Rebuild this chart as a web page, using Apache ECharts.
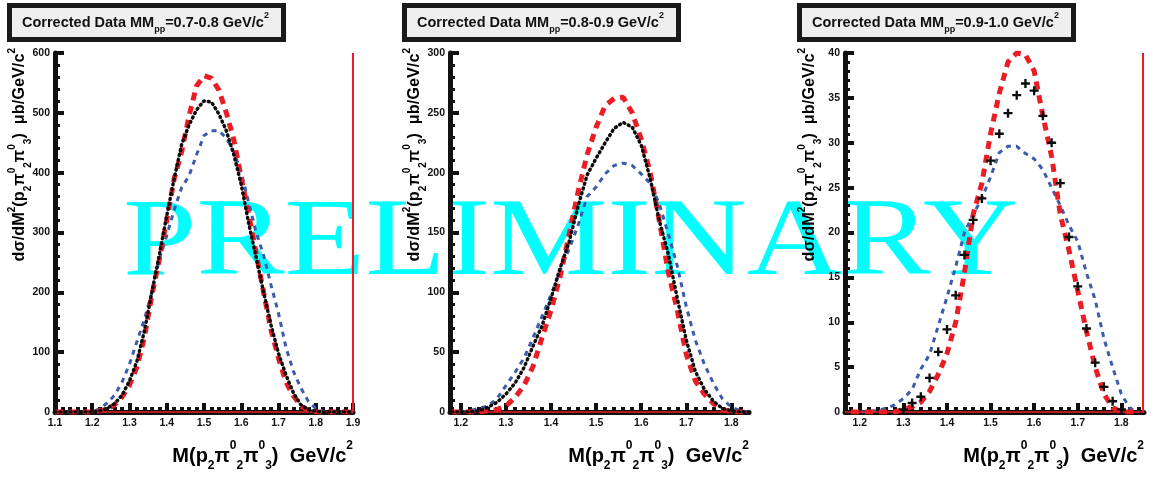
<!DOCTYPE html>
<html>
<head>
<meta charset="utf-8" />
<title>Corrected Data MMpp</title>
<script src="https://cdn.jsdelivr.net/npm/echarts@6/dist/echarts.min.js"></script>
</head>
<body style="margin:0;background:#fff;">
<div id="main" style="width:1154px;height:479px;"></div>
<script type="text/javascript">

// bins (GeV/c^2) and values
var xBins1 = [1.10,1.12,1.14,1.16,1.18,1.20,1.22,1.24,1.26,1.28,1.30,1.32,1.34,1.36,1.38,1.40,1.42,1.44,1.46,1.48,1.50,
	1.52,1.54,1.56,1.58,1.60,1.62,1.64,1.66,1.68,1.70,1.72,1.74,1.76,1.78,1.80,1.82,1.84,1.86,1.88,1.90];
var red1 = [0,0,0,0,0,0,2,5,12,25,45,75,125,195,255,321,390,435,495,545,562,
	558,538,500,455,391,330,265,200,137,90,50,27,10,3,0,0,0,0,0,0];
var black1 = [0,0,0,0,0,0,2,6,14,28,52,85,135,200,262,328,390,447,480,505,520,
	518,498,470,430,380,315,258,200,145,98,62,32,12,4,1,0,0,0,0,0];
var blue1 = [0,0,0,0,0,1,5,15,28,50,80,118,155,200,255,295,338,375,395,430,462,
	470,470,458,435,400,350,300,262,212,165,108,68,40,18,6,1,0,0,0,0];

var xBins2 = [1.18,1.20,1.22,1.24,1.26,1.28,1.30,1.32,1.34,1.36,1.38,1.40,1.42,1.44,1.46,1.48,1.50,
	1.52,1.54,1.56,1.58,1.60,1.62,1.64,1.66,1.68,1.70,1.72,1.74,1.76,1.78,1.80,1.82,1.84];
var red2 = [0,0,0,0,1,2,5,12,22,38,62,85,113,148,184,215,238,
	256,262,263,250,228,200,160,117,85,48,26,15,7,2,0,0,0];
var black2 = [0,0,0,1,4,8,15,24,37,55,72,95,120,142,172,198,212,
	225,237,242,238,223,195,160,132,95,60,34,19,9,3,1,0,0];
var blue2 = [0,0,1,3,5,11,22,33,45,62,80,98,118,136,156,180,188,
	199,206,208,206,199,191,174,149,122,88,60,40,24,11,4,1,0];

var xBins3 = [1.18,1.20,1.22,1.24,1.26,1.28,1.30,1.32,1.34,1.36,1.38,1.40,1.42,1.44,1.46,1.48,1.50,
	1.52,1.54,1.56,1.58,1.60,1.62,1.64,1.66,1.68,1.70,1.72,1.74,1.76,1.78,1.80,1.82,1.84];
var red3 = [0,0,0,0,0,0,0.3,0.6,1.1,2.3,4.2,6.5,10,15.5,22,25.5,31,
	35.5,39,40,39.8,38,33,28.5,22,18,13.5,9,5,2,0.5,0,0,0];
var black3 = [0,0,0,0,0,0,0.3,1,1.7,3.8,6.7,9.2,13,17.5,21.4,23.8,28,
	31,33.3,35.3,36.6,35.8,33,30,25.5,19.5,14,9.3,5.5,2.8,1.2,0.3,0,0];
var blue3 = [0,0,0,0.2,0.4,0.8,1.5,2.5,4.8,6.4,9.6,12.8,16.2,20,22,23.8,26.2,
	28.9,29.6,29.6,28.8,28.2,27,25,23,20.8,19,15.5,12.5,8.2,5,2,0.4,0];

var xTicks1 = [1.1,1.2,1.3,1.4,1.5,1.6,1.7,1.8,1.9];
var xTicks2 = [1.2,1.3,1.4,1.5,1.6,1.7,1.8];
var xTicks3 = [1.2,1.3,1.4,1.5,1.6,1.7,1.8];
var xRanges = [[1.1,1.9],[1.176,1.839],[1.166,1.852]];
var yMaxes = [600,300,40];
var ySteps = [100,50,5];
var mmRanges = ['0.7-0.8','0.8-0.9','0.9-1.0'];

var FONT = '"Liberation Sans", Arial, sans-serif';
var INK = '#111111';
var RED = '#ea1d25', BLUE = '#3a5caa', BLACK = '#0c0c0c';

var panelLeft = [55, 450, 845];
var panelWidth = [298, 299, 299];
var gridTop = 53, gridHeight = 359;

// rich styles: t = normal, sb = subscript, sp = superscript
function richFor(sz) {
	var small = Math.round(sz * 0.62);
	var base = {fontFamily: FONT, fontWeight: 'bold', color: INK};
	return {
		t: Object.assign({}, base, {fontSize: sz, lineHeight: Math.round(sz * 1.6)}),
		sb: Object.assign({}, base, {fontSize: small, verticalAlign: 'bottom', lineHeight: Math.round(sz * 0.96)}),
		sp: Object.assign({}, base, {fontSize: small, verticalAlign: 'top', lineHeight: Math.round(sz * 1.06)})
	};
}

var yTitle = '{t|d\u03c3/dM}{sp|2}{t|(p}{sb|2}{t|\u03c0}{sp|0}{sb|2}{t|\u03c0}{sp|0}{sb|3}{t|)  \u03bcb/GeV/c}{sp|2}';
var xTitle = '{t|M(p}{sb|2}{t|\u03c0}{sp|0}{sb|2}{t|\u03c0}{sp|0}{sb|3}{t|)  GeV/c}{sp|2}';

function pairs(xs, ys) {
	return xs.map(function (x, i) { return [x, ys[i]]; });
}
function minorTicks(lo, hi) {
	var out = [];
	for (var k = Math.ceil(lo / 0.02 - 1e-6); k * 0.02 <= hi + 1e-9; k++) out.push(+(k * 0.02).toFixed(2));
	return out;
}

var panels = [
	{x: xBins1, red: red1, black: black1, blue: blue1, ticks: xTicks1},
	{x: xBins2, red: red2, black: black2, blue: blue2, ticks: xTicks2},
	{x: xBins3, red: red3, black: black3, blue: blue3, ticks: xTicks3}
];

var grids = [], xAxes = [], yAxes = [], series = [], titles = [], graphics = [];
var cross = 'path://M3.7,0H6.3V3.7H10V6.3H6.3V10H3.7V6.3H0V3.7H3.7Z';

graphics.push({
	type: 'text', z: -10, x: 123, y: 245, scaleX: 1.19, scaleY: 1,
	style: {text: 'PRELIMINARY', font: '111px "Liberation Serif", "Times New Roman", serif', fill: '#00ffff', align: 'left', verticalAlign: 'middle'}
});

panels.forEach(function (p, i) {
	var lo = xRanges[i][0], hi = xRanges[i][1];
	grids.push({left: panelLeft[i], top: gridTop, width: panelWidth[i], height: gridHeight});
	xAxes.push({
		gridIndex: i, type: 'value', min: lo, max: hi, position: 'bottom',
		axisLine: {onZero: false, lineStyle: {color: INK, width: 5}},
		axisTick: {inside: true, length: 9, lineStyle: {color: INK, width: 4}, customValues: p.ticks},
		axisLabel: {customValues: p.ticks, formatter: function (v) { return v.toFixed(1); },
			fontFamily: FONT, fontWeight: 'bold', fontSize: 10.5, color: INK, margin: 6},
		splitLine: {show: false}
	});
	xAxes.push({
		gridIndex: i, type: 'value', min: lo, max: hi, position: 'bottom',
		axisLine: {show: false}, axisLabel: {show: false}, splitLine: {show: false},
		axisTick: {inside: true, length: 5, lineStyle: {color: INK, width: 4}, customValues: minorTicks(lo, hi)}
	});
	yAxes.push({
		gridIndex: i, type: 'value', min: 0, max: yMaxes[i], interval: ySteps[i],
		axisLine: {show: true, lineStyle: {color: INK, width: 5}},
		axisTick: {show: true, inside: true, length: 9, lineStyle: {color: INK, width: 4}},
		minorTick: {show: true, splitNumber: 5, length: 5, lineStyle: {color: INK, width: 3}},
		axisLabel: {fontFamily: FONT, fontWeight: 'bold', fontSize: 10.5, color: INK, margin: 5},
		splitLine: {show: false}
	});

	series.push({
		type: 'line', xAxisIndex: 2 * i, yAxisIndex: i, data: pairs(p.x, p.blue),
		symbol: 'none', z: 3, lineStyle: {color: BLUE, width: 3, type: [5, 5]}
	});
	series.push({
		type: 'line', xAxisIndex: 2 * i, yAxisIndex: i, data: pairs(p.x, p.red),
		symbol: 'none', z: 4, lineStyle: {color: RED, width: 5, type: [8, 6]},
		markLine: {
			silent: true, symbol: ['none', 'none'], label: {show: false},
			lineStyle: {color: RED, width: 2, type: 'solid'},
			data: [{xAxis: hi}, {yAxis: 0, lineStyle: {width: 1.5}}]
		}
	});
	if (i < 2) {
		series.push({
			type: 'line', xAxisIndex: 2 * i, yAxisIndex: i, data: pairs(p.x, p.black),
			symbol: 'none', z: 5, lineStyle: {color: BLACK, width: 3.5, type: [1, 4], cap: 'round'}
		});
	} else {
		series.push({
			type: 'scatter', xAxisIndex: 2 * i, yAxisIndex: i,
			data: pairs(p.x, p.black).filter(function (d) { return d[1] > 0; }),
			symbol: cross, symbolSize: 9, z: 5, itemStyle: {color: BLACK, opacity: 1}
		});
	}

	titles.push({
		text: '{t|Corrected Data MM}{sb|pp}{t|=' + mmRanges[i] + ' GeV/c}{sp|2}',
		left: panelLeft[i] - 46, top: 5,
		backgroundColor: '#efefef', borderColor: '#1a1a1a', borderWidth: 5,
		padding: [6, 15, 6, 13],
		textStyle: {rich: richFor(14.5)}
	});

	graphics.push({
		type: 'text', z: 20, x: panelLeft[i] - 35, y: 48, rotation: Math.PI / 2,
		style: {text: yTitle, rich: richFor(16.3), align: 'right', verticalAlign: 'middle'}
	});
	graphics.push({
		type: 'text', z: 20, x: panelLeft[i] + panelWidth[i], y: 456,
		style: {text: xTitle, rich: richFor(20), align: 'right', verticalAlign: 'middle'}
	});
});

var myChart = echarts.init(document.getElementById('main'));
myChart.setOption({
	animation: false,
	backgroundColor: '#ffffff',
	title: titles,
	grid: grids,
	xAxis: xAxes,
	yAxis: yAxes,
	series: series,
	graphic: {elements: graphics}
});

</script>
</body>
</html>
